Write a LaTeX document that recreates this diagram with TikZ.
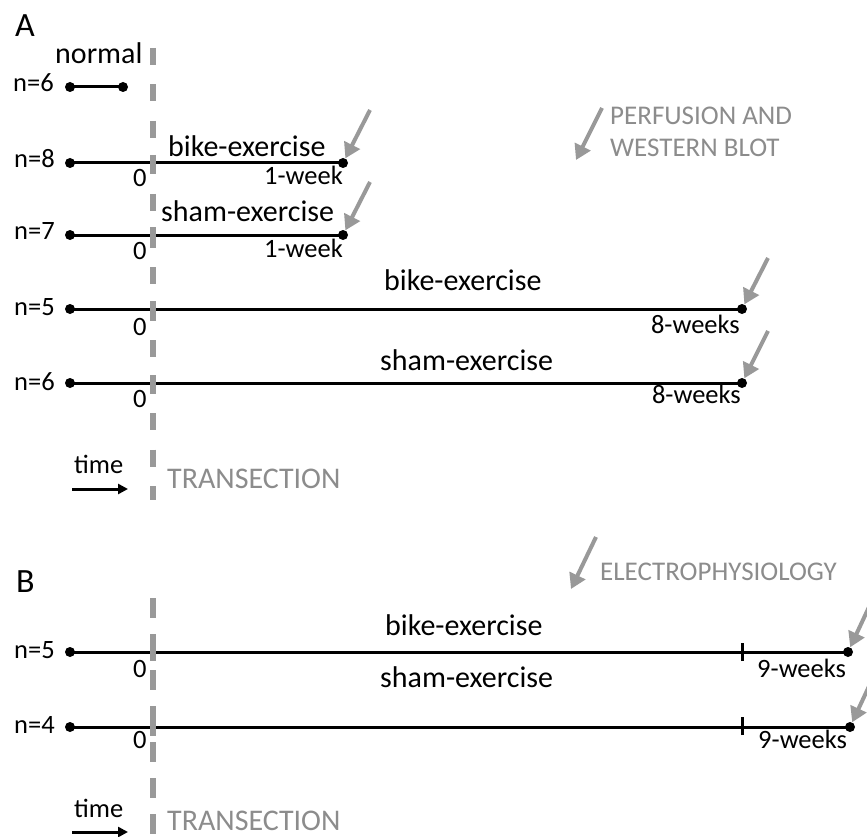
\documentclass[tikz,border=0pt]{standalone}
\usepackage{fontspec}
\setmainfont{Carlito}
\usetikzlibrary{arrows.meta}
\definecolor{arrowgray}{HTML}{999999}
\definecolor{textgray}{HTML}{8C8C8C}
\begin{document}
\begin{tikzpicture}[x=1pt,y=-1pt,
  dot/.style={circle,fill=black,inner sep=0pt,minimum size=10pt},
  tl/.style={line width=3pt,black},
  big/.style={font=\fontsize{30}{36}\selectfont,inner sep=0pt},
  lab/.style={font=\fontsize{26.5}{32}\selectfont,inner sep=0pt},
  glab/.style={font=\fontsize{27}{32}\selectfont,inner sep=0pt,text=textgray},
  gbig/.style={font=\fontsize{30}{36}\selectfont,inner sep=0pt,text=textgray},
  panel/.style={font=\fontsize{34}{40}\selectfont,inner sep=0pt},
  garrow/.style={arrowgray,line width=4pt,-{Triangle[width=17pt,length=15pt]}},
  tdash/.style={arrowgray,line width=5.5pt},
  tick/.style={line width=3pt,black},
  tarrow/.style={line width=3pt,-{Triangle[width=10pt,length=10pt]}}
]
\clip (0,0) rectangle (867,837);
\fill[white] (0,0) rectangle (867,837);

% ---------- Panel A ----------
\node[panel,anchor=base west] (A) at (15,37) {A};

% transection dashed line A
\coordinate (tAtop) at (153,48);
\coordinate (tAbot) at (153,500);
\draw[tdash,dash pattern=on 17pt off 19.5pt] (tAtop) -- (tAbot);

% row normal
\node[dot] (n1a) at (70,87) {};
\node[dot] (n1b) at (123,87) {};
\draw[tl] (n1a.center) -- (n1b.center);
\node[lab,anchor=base east] (l1) at (54,92) {n=6};
\node[big,anchor=base west] (normal) at (55,64) {normal};

% row 2
\node[dot] (r2a) at (70,163) {};
\node[dot] (r2b) at (343,163) {};
\draw[tl] (r2a.center) -- (r2b.center);
\node[lab,anchor=base east] (l2) at (55,168) {n=8};
\node[big,anchor=base west] (t2) at (168,157) {bike-exercise};
\node[lab,anchor=base west] (z2) at (133,187) {0};
\node[lab,anchor=base east] (w2) at (343,185) {1-week};
\coordinate (s2) at (370,110);
\draw[garrow] (s2) -- (r2b);

% row 3
\node[dot] (r3a) at (70,235) {};
\node[dot] (r3b) at (343,235) {};
\draw[tl] (r3a.center) -- (r3b.center);
\node[lab,anchor=base east] (l3) at (55,240) {n=7};
\node[big,anchor=base west] (t3) at (161,222) {sham-exercise};
\node[lab,anchor=base west] (z3) at (133,259) {0};
\node[lab,anchor=base east] (w3) at (343,257) {1-week};
\coordinate (s3) at (370,182);
\draw[garrow] (s3) -- (r3b);

% row 4
\node[dot] (r4a) at (70,309) {};
\node[dot] (r4b) at (742,309) {};
\draw[tl] (r4a.center) -- (r4b.center);
\node[lab,anchor=base east] (l4) at (55,315) {n=5};
\node[big,anchor=base west] (t4) at (384,290) {bike-exercise};
\node[lab,anchor=base west] (z4) at (133,335) {0};
\node[lab,anchor=base east] (w4) at (740,333) {8-weeks};
\coordinate (s4) at (768,258);
\draw[garrow] (s4) -- (r4b);

% row 5
\node[dot] (r5a) at (70,383) {};
\node[dot] (r5b) at (742,383) {};
\draw[tl] (r5a.center) -- (r5b.center);
\node[lab,anchor=base east] (l5) at (55,390) {n=6};
\node[big,anchor=base west] (t5) at (380,370) {sham-exercise};
\node[lab,anchor=base west] (z5) at (133,407) {0};
\node[lab,anchor=base east] (w5) at (741,403) {8-weeks};
\coordinate (s5) at (768,331);
\draw[garrow] (s5) -- (r5b);

% gray dashes over the crossings (panel A)
\foreach \y in {163,235,309,383}{
  \draw[tdash] (153,\y-8) -- (153,\y+8);
}

% time arrow A
\node[lab,anchor=base west] (timeA) at (74,473) {time};
\coordinate (taA1) at (72,489);
\coordinate (taA2) at (128,489);
\draw[tarrow] (taA1) -- (taA2);
\node[gbig,anchor=base west] (transA) at (167,488) {TRANSECTION};

% legend A
\coordinate (lgA1) at (602,108);
\coordinate (lgA2) at (576,160);
\draw[garrow] (lgA1) -- (lgA2);
\node[glab,anchor=base west] (perf) at (610,125) {PERFUSION AND};
\node[glab,anchor=base west] (west) at (610,157) {WESTERN BLOT};

% ---------- Panel B ----------
\node[panel,anchor=base west] (B) at (16,592) {B};

\coordinate (tBtop) at (153,598);
\coordinate (tBbot) at (153,840);
\draw[tdash,dash pattern=on 20pt off 16pt] (tBtop) -- (tBbot);

% row B1
\node[dot] (b1a) at (70,652) {};
\node[dot] (b1b) at (848,652) {};
\draw[tl] (b1a.center) -- (b1b.center);
\coordinate (k1) at (742,652);
\draw[tick] ([yshift=-9pt]k1) -- ([yshift=9pt]k1);
\node[lab,anchor=base east] (lb1) at (55,658) {n=5};
\node[big,anchor=base west] (tb1) at (385,635) {bike-exercise};
\node[lab,anchor=base west] (zb1) at (133,677) {0};
\node[lab,anchor=base west] (wb1) at (757,677) {9-weeks};
\coordinate (sb1) at (876,592);
\draw[garrow] (sb1) -- (b1b);

% row B2
\node[dot] (b2a) at (70,727) {};
\node[dot] (b2b) at (850,727) {};
\draw[tl] (b2a.center) -- (b2b.center);
\coordinate (k2) at (742,726);
\draw[tick] ([yshift=-9pt]k2) -- ([yshift=9pt]k2);
\node[lab,anchor=base east] (lb2) at (55,733) {n=4};
\node[big,anchor=base west] (tb2) at (380,687) {sham-exercise};
\node[lab,anchor=base west] (zb2) at (133,748) {0};
\node[lab,anchor=base west] (wb2) at (758,748) {9-weeks};
\coordinate (sb2) at (878,667);
\draw[garrow] (sb2) -- (b2b);

\foreach \y in {652,727}{
  \draw[tdash] (153,\y-9) -- (153,\y+9);
}

% time arrow B
\node[lab,anchor=base west] (timeB) at (74,817) {time};
\coordinate (taB1) at (72,832);
\coordinate (taB2) at (128,832);
\draw[tarrow] (taB1) -- (taB2);
\node[gbig,anchor=base west] (transB) at (167,830) {TRANSECTION};

% legend B
\coordinate (lgB1) at (596,537);
\coordinate (lgB2) at (571,589);
\draw[garrow] (lgB1) -- (lgB2);
\node[glab,anchor=base west] (elec) at (600,580) {ELECTROPHYSIOLOGY};
\end{tikzpicture}
\end{document}
